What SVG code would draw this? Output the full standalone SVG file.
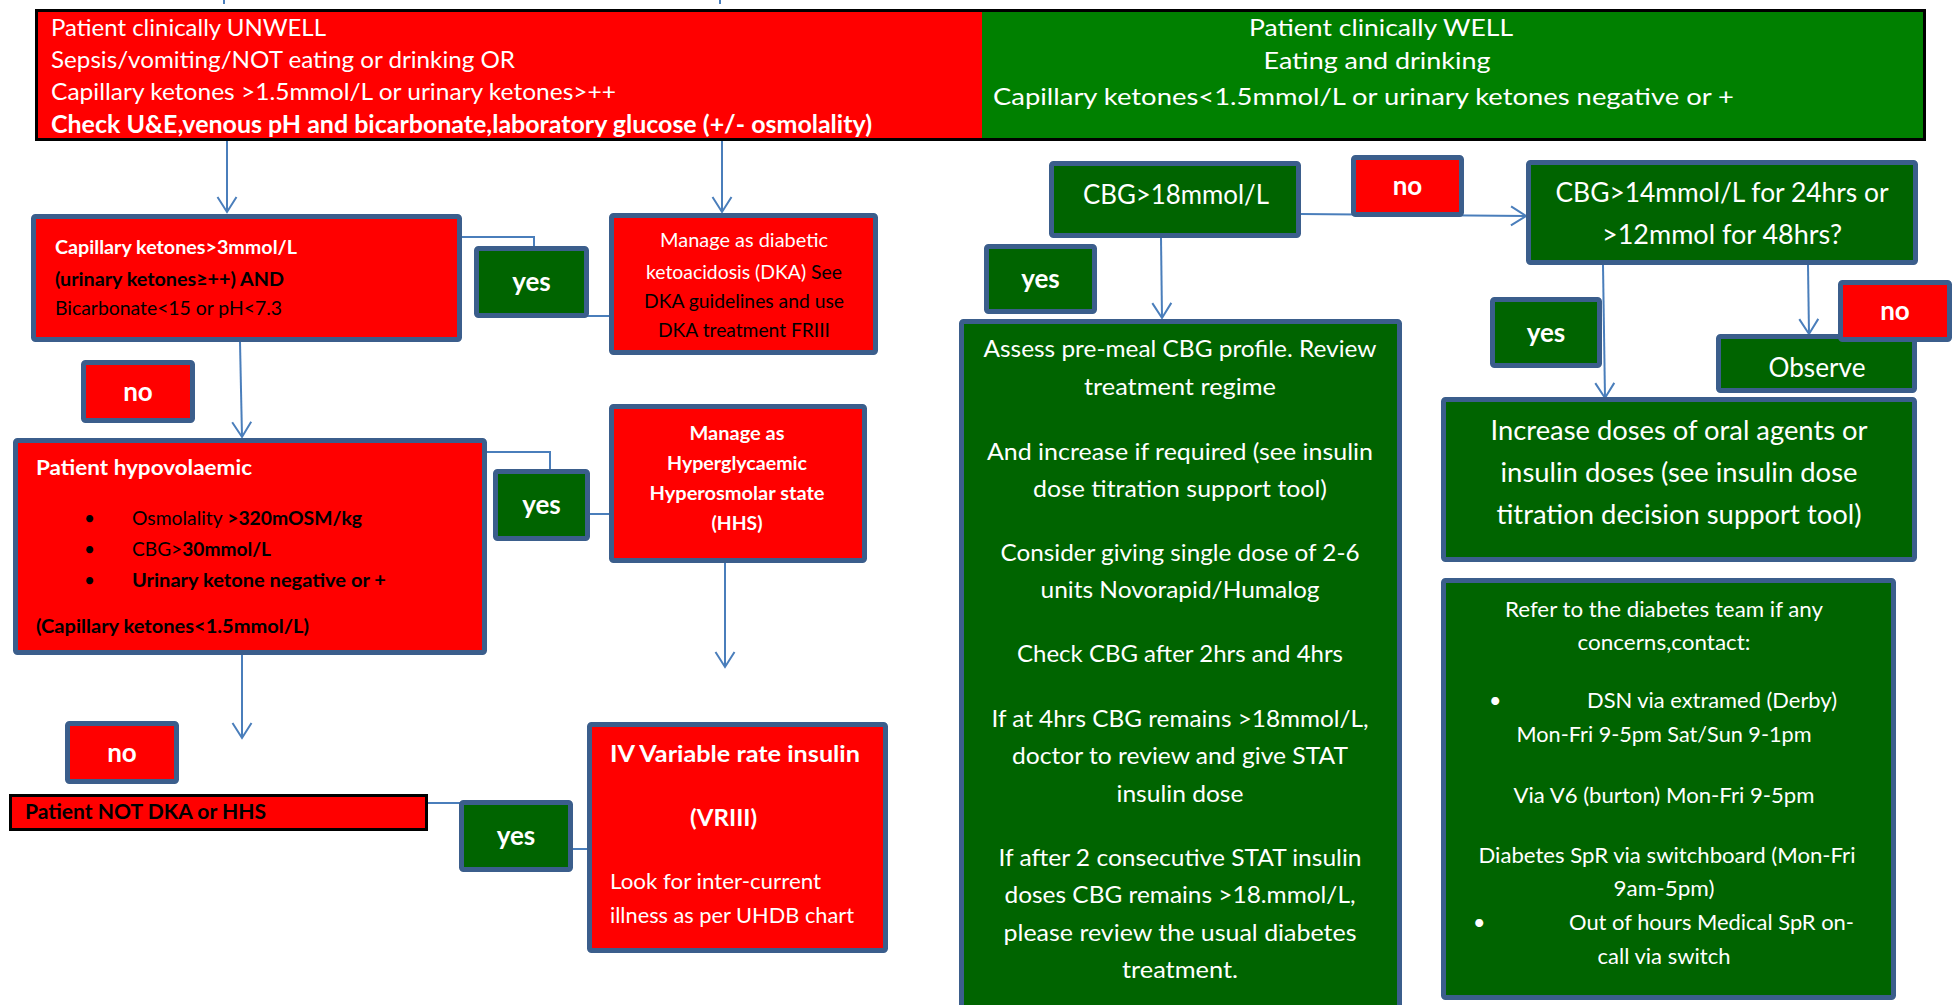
<svg xmlns="http://www.w3.org/2000/svg" width="1957" height="1005" viewBox="0 0 1957 1005">
<style>
  .rbox{fill:#ff0000;stroke:#3b5e8c;stroke-width:5}
  .gbox{fill:#006400;stroke:#3b5e8c;stroke-width:5}
  .conn{stroke:#4a7ebb;stroke-width:2;fill:none}
  text{font-family:Lato,"Liberation Sans",sans-serif}
  .w{fill:#ffffff}
  .k{fill:#000000}
  .b{font-weight:bold}
  .m{text-anchor:middle}
  .lbl{font-size:26px;font-weight:bold;fill:#ffffff;text-anchor:middle}
  .top{font-size:24px}
  .sm{font-size:19px}
  .as{font-size:23px;fill:#ffffff;text-anchor:middle}
  .inc{font-size:26.4px;fill:#ffffff;text-anchor:middle}
  .ref{font-size:21.4px;fill:#ffffff}
</style>
<defs>
  <marker id="arr" markerUnits="userSpaceOnUse" markerWidth="24" markerHeight="24" viewBox="-17 -12 20 24" refX="0" refY="0" orient="auto">
    <path d="M-15,-9.5 L0,0 L-15,9.5" fill="none" stroke="#4a7ebb" stroke-width="2"/>
  </marker>
</defs>
<rect width="1957" height="1005" fill="#ffffff"/>

<g id="connectors">
  <line class="conn" x1="224" y1="0" x2="224" y2="4"/>
  <line class="conn" x1="720" y1="0" x2="720" y2="4"/>
  <line class="conn" x1="227" y1="141" x2="227" y2="212" marker-end="url(#arr)"/>
  <line class="conn" x1="722" y1="141" x2="722" y2="212" marker-end="url(#arr)"/>
  <polyline class="conn" points="462,237 534,237 534,316 609,316"/>
  <line class="conn" x1="240" y1="342" x2="242" y2="437" marker-end="url(#arr)"/>
  <polyline class="conn" points="487,452 550,452 550,514 609,514"/>
  <line class="conn" x1="725" y1="563" x2="725" y2="667" marker-end="url(#arr)"/>
  <line class="conn" x1="242" y1="655" x2="242" y2="738" marker-end="url(#arr)"/>
  <polyline class="conn" points="428,803 516,803 516,849 587,849"/>
  <line class="conn" x1="1301" y1="214" x2="1526" y2="216" marker-end="url(#arr)"/>
  <line class="conn" x1="1161" y1="238" x2="1162" y2="318" marker-end="url(#arr)"/>
  <line class="conn" x1="1603" y1="265" x2="1605" y2="398" marker-end="url(#arr)"/>
  <line class="conn" x1="1808" y1="265" x2="1809" y2="334" marker-end="url(#arr)"/>
</g>

<g id="header-unwell">
  <rect x="35" y="9" width="947" height="132" fill="#ff0000"/>
  <text class="top w" x="51" y="36" textLength="275" lengthAdjust="spacingAndGlyphs">Patient clinically UNWELL</text>
  <text class="top w" x="51" y="68" textLength="464" lengthAdjust="spacingAndGlyphs">Sepsis/vomiting/NOT eating or drinking OR</text>
  <text class="top w" x="51" y="100" textLength="565" lengthAdjust="spacingAndGlyphs">Capillary ketones &gt;1.5mmol/L or urinary ketones&gt;++</text>
  <text class="top w b" x="51" y="133" textLength="821" lengthAdjust="spacingAndGlyphs">Check U&amp;E,venous pH and bicarbonate,laboratory glucose (+/- osmolality)</text>
</g>
<g id="header-well">
  <rect x="982" y="9" width="944" height="132" fill="#008000"/>
  <text class="top w m" x="1381" y="36" textLength="264" lengthAdjust="spacingAndGlyphs">Patient clinically WELL</text>
  <text class="top w m" x="1377" y="69" textLength="227" lengthAdjust="spacingAndGlyphs">Eating and drinking</text>
  <text class="top w" x="993" y="105" textLength="741" lengthAdjust="spacingAndGlyphs">Capillary ketones&lt;1.5mmol/L or urinary ketones negative or +</text>
</g>
<rect x="36.5" y="10.5" width="1888" height="129" fill="none" stroke="#000000" stroke-width="3"/>

<g id="capillary-check">
  <rect class="rbox" x="33.5" y="216.5" width="426" height="123" rx="2"/>
  <text class="sm w b" x="55" y="254" textLength="242" lengthAdjust="spacingAndGlyphs">Capillary ketones&gt;3mmol/L</text>
  <text class="sm k b" x="55" y="286" textLength="229" lengthAdjust="spacingAndGlyphs">(urinary ketones≥++) AND</text>
  <text class="sm k" x="55" y="315" textLength="227" lengthAdjust="spacingAndGlyphs">Bicarbonate&lt;15 or pH&lt;7.3</text>
</g>
<g id="yes-1">
  <rect class="gbox" x="476.5" y="248.5" width="110" height="67" rx="2"/>
  <text class="lbl" x="531.5" y="291">yes</text>
</g>
<g id="dka">
  <rect class="rbox" x="611.5" y="215.5" width="264" height="137" rx="2"/>
  <text class="sm w m" x="744" y="247" textLength="168" lengthAdjust="spacingAndGlyphs">Manage as diabetic</text>
  <text class="sm m" x="744" y="279" textLength="196" lengthAdjust="spacingAndGlyphs"><tspan class="w">ketoacidosis (DKA) </tspan><tspan class="k">See</tspan></text>
  <text class="sm k m" x="744" y="308" textLength="200" lengthAdjust="spacingAndGlyphs">DKA guidelines and use</text>
  <text class="sm k m" x="744" y="337" textLength="172" lengthAdjust="spacingAndGlyphs">DKA treatment FRIII</text>
</g>
<g id="no-1">
  <rect class="rbox" x="83.5" y="362.5" width="109" height="58" rx="2"/>
  <text class="lbl" x="138" y="401">no</text>
</g>
<g id="hypovolaemic">
  <rect class="rbox" x="15.5" y="440.5" width="469" height="212" rx="2"/>
  <text class="w b" font-size="21.5" x="36" y="475" textLength="216" lengthAdjust="spacingAndGlyphs">Patient hypovolaemic</text>
  <text class="sm k" x="84" y="525">•</text>
  <text class="sm k" x="84" y="556">•</text>
  <text class="sm k" x="84" y="587">•</text>
  <text class="sm k" x="132" y="525" textLength="230" lengthAdjust="spacingAndGlyphs">Osmolality <tspan class="b">&gt;320mOSM/kg</tspan></text>
  <text class="sm k" x="132" y="556" textLength="139" lengthAdjust="spacingAndGlyphs">CBG&gt;<tspan class="b">30mmol/L</tspan></text>
  <text class="sm k b" x="132" y="587" textLength="254" lengthAdjust="spacingAndGlyphs">Urinary ketone negative or +</text>
  <text class="sm k b" x="36" y="633" textLength="273" lengthAdjust="spacingAndGlyphs">(Capillary ketones&lt;1.5mmol/L)</text>
</g>
<g id="yes-2">
  <rect class="gbox" x="495.5" y="471.5" width="92" height="67" rx="2"/>
  <text class="lbl" x="541.5" y="514">yes</text>
</g>
<g id="hhs">
  <rect class="rbox" x="611.5" y="406.5" width="253" height="154" rx="2"/>
  <text class="sm w b m" x="737" y="440" textLength="95" lengthAdjust="spacingAndGlyphs">Manage as</text>
  <text class="sm w b m" x="737" y="470" textLength="140" lengthAdjust="spacingAndGlyphs">Hyperglycaemic</text>
  <text class="sm w b m" x="737" y="500" textLength="175" lengthAdjust="spacingAndGlyphs">Hyperosmolar state</text>
  <text class="sm w b m" x="737" y="530" textLength="51" lengthAdjust="spacingAndGlyphs">(HHS)</text>
</g>
<g id="no-2">
  <rect class="rbox" x="67.5" y="723.5" width="109" height="58" rx="2"/>
  <text class="lbl" x="122" y="762">no</text>
</g>
<g id="not-dka-hhs">
  <rect x="10.5" y="795.5" width="416" height="34" fill="#ff0000" stroke="#000000" stroke-width="3"/>
  <text class="k b" font-size="21.4" x="25" y="819" textLength="241" lengthAdjust="spacingAndGlyphs">Patient NOT DKA or HHS</text>
</g>
<g id="yes-3">
  <rect class="gbox" x="461.5" y="802.5" width="109" height="67" rx="2"/>
  <text class="lbl" x="516" y="845">yes</text>
</g>
<g id="vriii">
  <rect class="rbox" x="589.5" y="724.5" width="296" height="226" rx="2"/>
  <text class="w b" font-size="23.4" x="610" y="762" textLength="250" lengthAdjust="spacingAndGlyphs">IV Variable rate insulin</text>
  <text class="w b" font-size="23.4" x="690" y="826" textLength="67" lengthAdjust="spacingAndGlyphs">(VRIII)</text>
  <text class="w" font-size="21.6" x="610" y="889" textLength="211" lengthAdjust="spacingAndGlyphs">Look for inter-current</text>
  <text class="w" font-size="21.6" x="610" y="923" textLength="244" lengthAdjust="spacingAndGlyphs">illness as per UHDB chart</text>
</g>

<g id="cbg-18">
  <rect class="gbox" x="1051.5" y="163.5" width="247" height="72" rx="2"/>
  <text class="w m" font-size="26" x="1176" y="204" textLength="186" lengthAdjust="spacingAndGlyphs">CBG&gt;18mmol/L</text>
</g>
<g id="no-3">
  <rect class="rbox" x="1353.5" y="157.5" width="108" height="57" rx="2"/>
  <text class="lbl" x="1407.5" y="195">no</text>
</g>
<g id="cbg-14">
  <rect class="gbox" x="1528.5" y="162.5" width="387" height="100" rx="2"/>
  <text class="w m" font-size="26" x="1722" y="202" textLength="333" lengthAdjust="spacingAndGlyphs">CBG&gt;14mmol/L for 24hrs or</text>
  <text class="w m" font-size="26" x="1722" y="244" textLength="240" lengthAdjust="spacingAndGlyphs">&gt;12mmol for 48hrs?</text>
</g>
<g id="yes-4">
  <rect class="gbox" x="986.5" y="246.5" width="108" height="65" rx="2"/>
  <text class="lbl" x="1040.5" y="288">yes</text>
</g>
<g id="assess">
  <rect class="gbox" x="961.5" y="321.5" width="438" height="700" rx="2"/>
  <text class="as" x="1180" y="357" textLength="393" lengthAdjust="spacingAndGlyphs">Assess pre-meal CBG profile. Review</text>
  <text class="as" x="1180" y="395" textLength="192" lengthAdjust="spacingAndGlyphs">treatment regime</text>
  <text class="as" x="1180" y="460" textLength="386" lengthAdjust="spacingAndGlyphs">And increase if required (see insulin</text>
  <text class="as" x="1180" y="497" textLength="294" lengthAdjust="spacingAndGlyphs">dose titration support tool)</text>
  <text class="as" x="1180" y="561" textLength="359" lengthAdjust="spacingAndGlyphs">Consider giving single dose of 2-6</text>
  <text class="as" x="1180" y="598" textLength="279" lengthAdjust="spacingAndGlyphs">units Novorapid/Humalog</text>
  <text class="as" x="1180" y="662" textLength="326" lengthAdjust="spacingAndGlyphs">Check CBG after 2hrs and 4hrs</text>
  <text class="as" x="1180" y="727" textLength="377" lengthAdjust="spacingAndGlyphs">If at 4hrs CBG remains &gt;18mmol/L,</text>
  <text class="as" x="1180" y="764" textLength="336" lengthAdjust="spacingAndGlyphs">doctor to review and give STAT</text>
  <text class="as" x="1180" y="802" textLength="127" lengthAdjust="spacingAndGlyphs">insulin dose</text>
  <text class="as" x="1180" y="866" textLength="363" lengthAdjust="spacingAndGlyphs">If after 2 consecutive STAT insulin</text>
  <text class="as" x="1180" y="903" textLength="351" lengthAdjust="spacingAndGlyphs">doses CBG remains &gt;18.mmol/L,</text>
  <text class="as" x="1180" y="941" textLength="353" lengthAdjust="spacingAndGlyphs">please review the usual diabetes</text>
  <text class="as" x="1180" y="978" textLength="116" lengthAdjust="spacingAndGlyphs">treatment.</text>
</g>
<g id="yes-5">
  <rect class="gbox" x="1492.5" y="299.5" width="107" height="66" rx="2"/>
  <text class="lbl" x="1546" y="342">yes</text>
</g>
<g id="observe">
  <rect class="gbox" x="1718.5" y="336.5" width="196" height="54" rx="2"/>
  <text class="w m" font-size="26" x="1817" y="377" textLength="97" lengthAdjust="spacingAndGlyphs">Observe</text>
</g>
<g id="no-4">
  <rect class="rbox" x="1840.5" y="282.5" width="109" height="57" rx="2"/>
  <text class="lbl" x="1895" y="320">no</text>
</g>
<g id="increase">
  <rect class="gbox" x="1443.5" y="399.5" width="471" height="160" rx="2"/>
  <text class="inc" x="1679" y="440" textLength="377" lengthAdjust="spacingAndGlyphs">Increase doses of oral agents or</text>
  <text class="inc" x="1679" y="482" textLength="357" lengthAdjust="spacingAndGlyphs">insulin doses (see insulin dose</text>
  <text class="inc" x="1679" y="524" textLength="365" lengthAdjust="spacingAndGlyphs">titration decision support tool)</text>
</g>
<g id="refer">
  <rect class="gbox" x="1443.5" y="580.5" width="450" height="417" rx="2"/>
  <text class="ref m" x="1664" y="617" textLength="318" lengthAdjust="spacingAndGlyphs">Refer to the diabetes team if any</text>
  <text class="ref m" x="1664" y="650" textLength="173" lengthAdjust="spacingAndGlyphs">concerns,contact:</text>
  <text class="ref" x="1489" y="708">•</text>
  <text class="ref" x="1587" y="708" textLength="250" lengthAdjust="spacingAndGlyphs">DSN via extramed (Derby)</text>
  <text class="ref m" x="1664" y="742" textLength="295" lengthAdjust="spacingAndGlyphs">Mon-Fri 9-5pm Sat/Sun 9-1pm</text>
  <text class="ref m" x="1664" y="803" textLength="301" lengthAdjust="spacingAndGlyphs">Via V6 (burton) Mon-Fri 9-5pm</text>
  <text class="ref m" x="1667" y="863" textLength="377" lengthAdjust="spacingAndGlyphs">Diabetes SpR via switchboard (Mon-Fri</text>
  <text class="ref m" x="1664" y="896" textLength="101" lengthAdjust="spacingAndGlyphs">9am-5pm)</text>
  <text class="ref" x="1473" y="930">•</text>
  <text class="ref" x="1569" y="930" textLength="285" lengthAdjust="spacingAndGlyphs">Out of hours Medical SpR on-</text>
  <text class="ref m" x="1664" y="964" textLength="133" lengthAdjust="spacingAndGlyphs">call via switch</text>
</g>
</svg>
